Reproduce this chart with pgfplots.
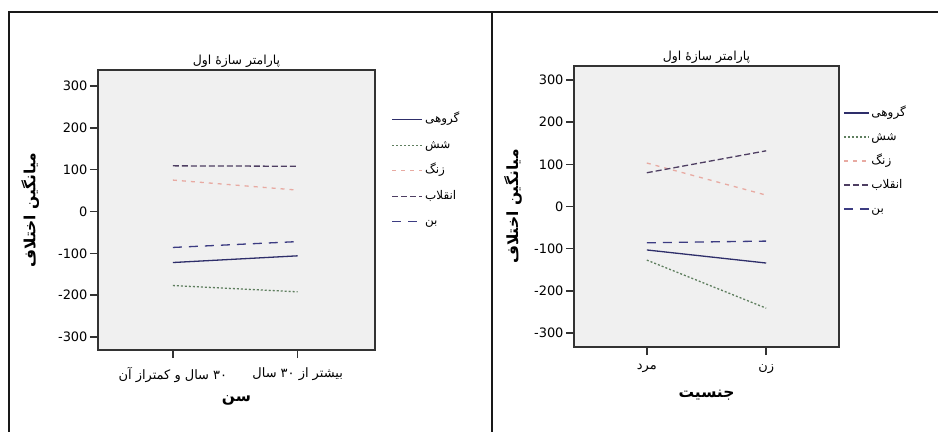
\documentclass[border=0pt]{standalone}
\usepackage{pgfplots}
\pgfplotsset{compat=1.18}
\usepackage{fontspec}
\setmainfont{DejaVu Sans}
\newfontfamily\fa[Script=Arabic]{DejaVu Sans}
\TeXXeTstate=1

\definecolor{cGroup}{HTML}{2E2E6A}
\definecolor{cShesh}{HTML}{5E7E5E}
\definecolor{cZang}{HTML}{E8AAA2}
\definecolor{cEngh}{HTML}{4E3E62}
\definecolor{cBon}{HTML}{3C3C82}
\definecolor{plotbg}{HTML}{F0F0F0}

\pgfplotsset{
  profile/.style={
    scale only axis,
    axis background/.style={fill=plotbg},
    axis line style={line width=1.5bp, black!80},
    tick style={line width=1.5bp, black!80},
    major tick length=8bp,
    tick align=outside,
    tick pos=left,
    xtick={0,1},
    ytick={-300,-200,-100,0,100,200,300},
    /pgf/number format/assume math mode=true,
    yticklabel style={font=\fontsize{13}{15}\selectfont, xshift=1bp},
    xticklabel style={font=\fontsize{13}{15}\selectfont, yshift=-6bp},
    title style={font=\fontsize{12.5}{14}\selectfont, yshift=-7bp},
    label style={font=\bfseries\fontsize{15.5}{18}\selectfont},
    legend style={draw=none, fill=none, font=\fontsize{12}{14}\selectfont,
      legend cell align=left, row sep=7.5bp, inner sep=0bp,
      nodes={text height=10bp, text depth=4bp},
      /tikz/every even column/.append style={column sep=3bp}},
    legend image code/.code={\draw[#1] (0bp,0bp) -- (30bp,0bp);},
    every axis plot/.append style={line width=1.3bp},
  },
  sGroup/.style={cGroup, solid},
  sShesh/.style={cShesh, dash pattern=on 2bp off 2bp},
  sZang/.style={cZang, dash pattern=on 4bp off 5bp},
  sEngh/.style={cEngh, dash pattern=on 6bp off 3bp},
  sBon/.style={cBon, dash pattern=on 9bp off 7bp},
}

\begin{document}
\begin{tikzpicture}
\path[use as bounding box] (0bp,0bp) rectangle (938bp,432bp);

% panel frames
\draw[line width=2bp, black!90] (8.5bp,0bp) -- (8.5bp,419.5bp) -- (938bp,419.5bp);
\draw[line width=2bp, black!90] (492bp,0bp) -- (492bp,419.5bp);

% left panel: age
\begin{axis}[profile,
  at={(98bp,82bp)}, anchor=south west,
  width=277bp, height=280bp,
  xmin=-0.6, xmax=1.62, ymin=-331, ymax=338,
  xticklabels={{\fa\beginR\beginL ۳۰\endL{} سال و کمتراز آن\endR}, {\fa\beginR بیشتر از \beginL ۳۰\endL{} سال\endR}},
  title={\fa\beginR پارامتر سازهٔ اول\endR},
  xlabel={\fa\beginR سن\endR},
  ylabel={\fa\beginR میانگین اختلاف\endR},
  xlabel style={at={(axis description cs:0.5,-0.18)}, anchor=center},
  ylabel style={at={(axis description cs:-0.245,0.5)}, anchor=center},
  legend style={at={(1.06,0.855)}, anchor=north west},
]
\addplot[sGroup] coordinates {(0,-122) (1,-106)};
\addlegendentry{\fa\beginR گروهی\endR}
\addplot[sShesh] coordinates {(0,-177) (1,-192)};
\addlegendentry{\fa\beginR شش\endR}
\addplot[sZang] coordinates {(0,75) (1,51)};
\addlegendentry{\fa\beginR زنگ\endR}
\addplot[sEngh] coordinates {(0,109) (1,108)};
\addlegendentry{\fa\beginR انقلاب\endR}
\addplot[sBon] coordinates {(0,-86) (1,-72)};
\addlegendentry{\fa\beginR بن\endR}
\end{axis}

% right panel: gender
\begin{axis}[profile,
  at={(574bp,85bp)}, anchor=south west,
  width=265bp, height=281bp,
  xmin=-0.61, xmax=1.61, ymin=-333, ymax=333,
  xticklabels={{\fa\beginR مرد\endR}, {\fa\beginR زن\endR}},
  title={\fa\beginR پارامتر سازهٔ اول\endR},
  xlabel={\fa\beginR جنسیت\endR},
  ylabel={\fa\beginR میانگین اختلاف\endR},
  xlabel style={at={(axis description cs:0.5,-0.17)}, anchor=center},
  ylabel style={at={(axis description cs:-0.23,0.5)}, anchor=center},
  legend style={at={(1.015,0.865)}, anchor=north west, row sep=6bp},
  legend image code/.code={\draw[#1] (0bp,0bp) -- (25bp,0bp);},
]
\addplot[sGroup] coordinates {(0,-103) (1,-134)};
\addlegendentry{\fa\beginR گروهی\endR}
\addplot[sShesh] coordinates {(0,-127) (1,-241)};
\addlegendentry{\fa\beginR شش\endR}
\addplot[sZang] coordinates {(0,103) (1,27)};
\addlegendentry{\fa\beginR زنگ\endR}
\addplot[sEngh] coordinates {(0,80) (1,132)};
\addlegendentry{\fa\beginR انقلاب\endR}
\addplot[sBon] coordinates {(0,-86) (1,-82)};
\addlegendentry{\fa\beginR بن\endR}
\end{axis}
\end{tikzpicture}
\end{document}
